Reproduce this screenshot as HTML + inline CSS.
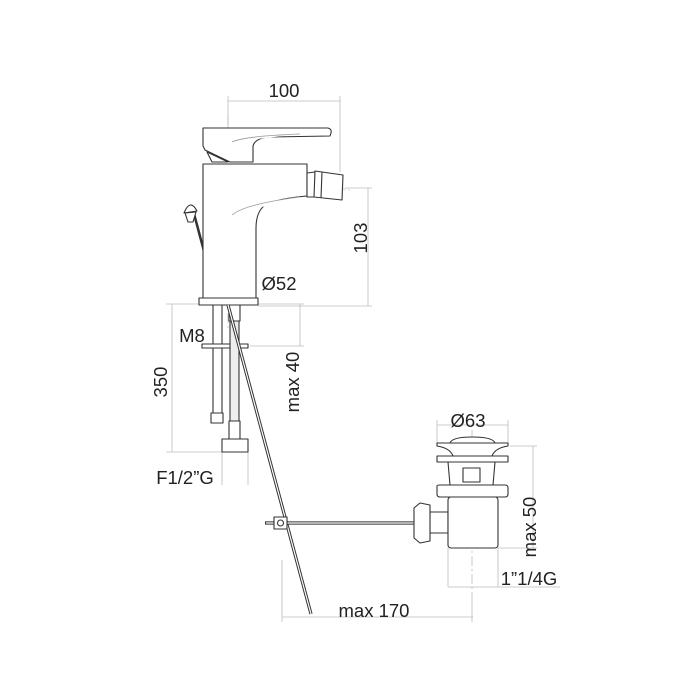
<!DOCTYPE html>
<html><head><meta charset="utf-8"><style>
html,body{margin:0;padding:0;background:#fff}
svg{display:block}
text{font-family:"Liberation Sans",sans-serif;font-size:18.5px;fill:#222}
</style></head><body>
<svg width="700" height="700" viewBox="0 0 700 700" xmlns="http://www.w3.org/2000/svg">
<g fill="none" stroke="#bbb" stroke-width="0.8">
<line x1="228" y1="101" x2="340" y2="101"/>
<line x1="228" y1="96" x2="228" y2="128"/>
<line x1="340" y1="96" x2="340" y2="172"/>
<line x1="345" y1="188" x2="372" y2="188"/>
<line x1="368" y1="188" x2="368" y2="306"/>
<line x1="258" y1="306" x2="372" y2="306"/>
<line x1="166" y1="304" x2="200" y2="304"/>
<line x1="172" y1="304" x2="172" y2="452"/>
<line x1="166" y1="452" x2="248" y2="452"/>
<line x1="300" y1="304" x2="300" y2="346"/>
<line x1="250" y1="346" x2="304" y2="346"/>
<line x1="258" y1="304" x2="304" y2="304"/>
<line x1="222" y1="452" x2="222" y2="485"/>
<line x1="248" y1="452" x2="248" y2="485"/>
<line x1="437" y1="425" x2="508" y2="425"/>
<line x1="437" y1="420" x2="437" y2="443"/>
<line x1="508" y1="420" x2="508" y2="443"/>
<line x1="510" y1="446" x2="537" y2="446"/>
<line x1="533" y1="446" x2="533" y2="548"/>
<line x1="498" y1="548" x2="537" y2="548"/>
<line x1="448" y1="548" x2="448" y2="587"/>
<line x1="498" y1="548" x2="498" y2="587"/>
<line x1="448" y1="587" x2="560" y2="587"/>
<line x1="282" y1="617" x2="473" y2="617"/>
<line x1="282" y1="560" x2="282" y2="622"/>
<line x1="472" y1="600" x2="472" y2="622"/>
<line x1="228" y1="115" x2="228" y2="330" stroke-dasharray="10,3,2,3"/>
<line x1="472" y1="430" x2="472" y2="600" stroke-dasharray="10,3,2,3"/>
<line x1="300" y1="182" x2="350" y2="190" stroke-dasharray="10,3,2,3"/>
</g>
<g fill="#fff" stroke="#333" stroke-width="1.1" stroke-linejoin="round">
<line x1="193" y1="210" x2="205" y2="255" stroke-width="2.5"/>
<path d="M184,213 Q190,198 197,211 Z"/>
<path d="M185,213 L196,212 L193,222 L188,222 Z"/>
<path d="M203,164 L307,164 L307,196 Q280,198 265,205 Q256,212 256,228 L256,298 L203,298 Z"/>
<path d="M232,215 Q245,204 300,197" stroke="#999" stroke-width="0.8"/>
<path d="M307,173 L315,172 L315,197 L307,197 Z"/>
<path d="M315,171 L343,175 L342,200 L314,197 Z"/>
<line x1="322" y1="172" x2="321" y2="198"/>
<path d="M203,128 L328,128 Q332,129 331,133 L330,136 L270,137 Q255,138 253,146 L253,162 L230,162 L205,150 L203,146 Z"/>
<path d="M207,152 L212,162 L228,162 Z"/>
<path d="M232,142 Q245,136 300,134" stroke="#999" stroke-width="0.8"/>
<rect x="199" y="298" width="59" height="7"/>
<rect x="213" y="305" width="9" height="110"/>
<rect x="211" y="413" width="12" height="10"/>
<rect x="202" y="344" width="46" height="4"/>
<rect x="229" y="305" width="11" height="16"/>
<rect x="230" y="321" width="9" height="100" fill="#eee"/>
<rect x="229" y="421" width="11" height="18"/>
<rect x="222" y="439" width="26" height="13"/>
<line x1="228" y1="305" x2="311" y2="614" stroke-width="3.2"/>
<line x1="228" y1="305" x2="311" y2="614" stroke="#fff" stroke-width="1.2"/>
<line x1="265" y1="523" x2="414" y2="523" stroke-width="3.2"/>
<line x1="266" y1="523" x2="414" y2="523" stroke="#fff" stroke-width="1.2"/>
<rect x="274" y="517" width="13" height="12"/>
<circle cx="280.5" cy="523" r="3"/>
<rect x="430" y="512" width="18" height="21"/>
<path d="M414,508 L420,503 L430,505 L430,541 L420,543 L414,538 Z"/>
<rect x="448" y="497" width="50" height="51" rx="3"/>
<path d="M437,486 Q437,485 440,485 L505,485 Q508,485 508,488 L508,494 Q508,497 505,497 L440,497 Q437,497 437,494 Z"/>
<path d="M448,462 L495,462 L493,485 L450,485 Z"/>
<rect x="463" y="468" width="17" height="14"/>
<rect x="437" y="456" width="71" height="6"/>
<path d="M437,443 L508,443 L508,446 Q495,448 492,456 L453,456 Q450,448 437,446 Z"/>
<path d="M450,443 Q452,437 472,437 Q493,437 495,443 Z"/>
</g>
<g>
<text x="284" y="97" text-anchor="middle">100</text>
<text x="279" y="290" text-anchor="middle">Ø52</text>
<text transform="translate(367,238) rotate(-90)" text-anchor="middle">103</text>
<text x="192" y="342" text-anchor="middle">M8</text>
<text transform="translate(167,382) rotate(-90)" text-anchor="middle">350</text>
<text transform="translate(299,382) rotate(-90)" text-anchor="middle">max 40</text>
<text x="185" y="484" text-anchor="middle">F1/2”G</text>
<text x="468" y="427" text-anchor="middle">Ø63</text>
<text transform="translate(536,527) rotate(-90)" text-anchor="middle">max 50</text>
<text x="529" y="585" text-anchor="middle">1”1/4G</text>
<text x="374" y="617" text-anchor="middle">max 170</text>
</g>
</svg>
</body></html>
